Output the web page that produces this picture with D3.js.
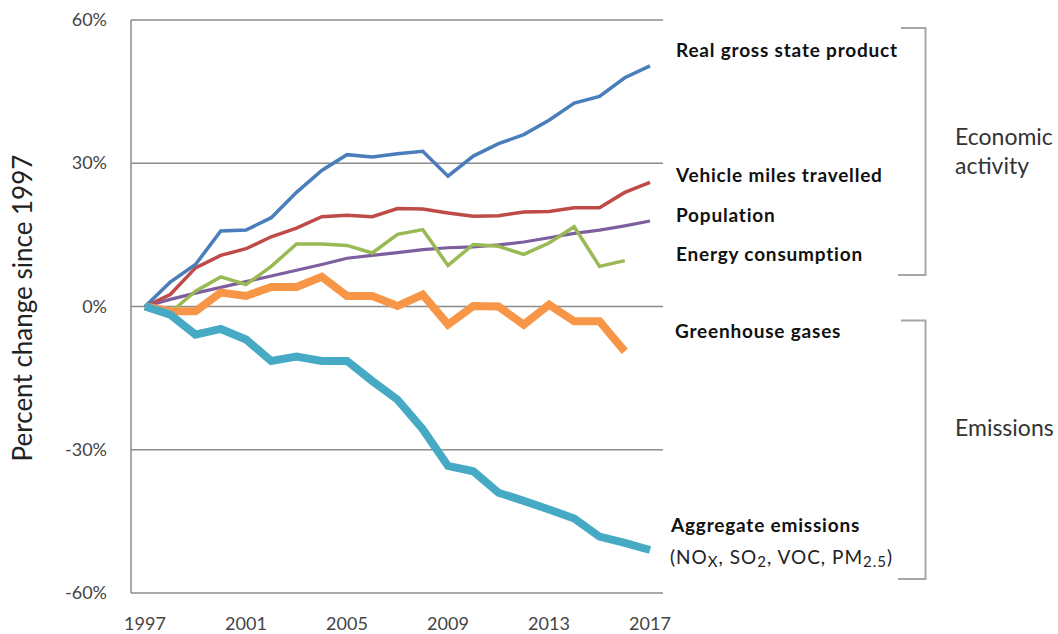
<!DOCTYPE html>
<html><head><meta charset="utf-8">
<script src="https://cdn.jsdelivr.net/npm/d3@7"></script>
<style>body{margin:0;background:#fff}svg{display:block}text{font-family:Lato,"Open Sans",sans-serif}</style>
</head><body><svg id="c" width="1058" height="634"></svg>
<script>
const years = d3.range(1997, 2018);
const gsp = [0,5.1,8.8,15.8,16.0,18.6,23.9,28.5,31.8,31.3,32.0,32.5,27.3,31.5,34.1,36.0,39.0,42.6,44.0,47.9,50.4];
const vmt = [0,2.5,8.1,10.7,12.1,14.6,16.4,18.8,19.1,18.8,20.5,20.4,19.6,18.9,19.0,19.8,19.9,20.7,20.7,23.9,26.0];
const population = [0,1.5,2.8,4.0,5.2,6.4,7.6,8.8,10.1,10.7,11.3,11.9,12.3,12.5,12.9,13.5,14.4,15.3,16.0,16.9,17.9];
const energy = [0,-1.3,3.2,6.2,4.6,8.4,13.1,13.1,12.8,11.2,15.1,16.1,8.6,13.0,12.6,10.9,13.3,16.7,8.4,9.6,null];
const ghg = [0,-1.0,-1.0,2.9,2.2,4.1,4.1,6.2,2.2,2.2,0.1,2.5,-3.8,0.1,0.0,-3.8,0.4,-3.1,-3.1,-9.4,null];
const aggregate = [0,-1.7,-5.9,-4.7,-6.9,-11.4,-10.5,-11.4,-11.4,-15.6,-19.5,-25.7,-33.4,-34.5,-39.0,-40.7,-42.5,-44.4,-48.2,-49.5,-51.0];
const yTicks = [60,30,0,-30,-60];
const xTickYears = [1997,2001,2005,2009,2013,2017];

const series = [
  {name:"Population", values:population, color:"#7d5fa0", w:3.2},
  {name:"Energy consumption", values:energy, color:"#98b954", w:3.5},
  {name:"Vehicle miles travelled", values:vmt, color:"#be4b48", w:3.5},
  {name:"Real gross state product", values:gsp, color:"#4a7ebb", w:3.5},
  {name:"Greenhouse gases", values:ghg, color:"#f79646", w:8},
  {name:"Aggregate emissions", values:aggregate, color:"#46aac5", w:8}
];

const svg = d3.select("#c");
const x = d3.scaleLinear().domain([1997,2017]).range([145,650]);
const y = d3.scaleLinear().domain([-60,60]).range([593,20]);
const plotLeft = 131, plotRight = 663;

svg.append("g").selectAll("line").data(yTicks).join("line")
  .attr("x1",plotLeft).attr("x2",plotRight)
  .attr("y1",d=>y(d)).attr("y2",d=>y(d))
  .attr("stroke","#8c8c8c").attr("stroke-width",1.3);
svg.append("line").attr("x1",plotLeft).attr("x2",plotLeft).attr("y1",y(60)).attr("y2",y(-60))
  .attr("stroke","#8c8c8c").attr("stroke-width",1.5);

svg.append("g").selectAll("text").data(yTicks).join("text")
  .attr("x",107).attr("y",d=>y(d)+6).attr("text-anchor","end")
  .attr("font-size",18).attr("fill","#444").text(d=>d+"%");
svg.append("g").selectAll("text").data(xTickYears).join("text")
  .attr("x",d=>x(d)).attr("y",630).attr("text-anchor","middle")
  .attr("font-size",18).attr("fill","#444").text(d=>d);
svg.append("text").attr("transform","translate(32,308) rotate(-90)")
  .attr("text-anchor","middle").attr("font-size",26).attr("fill","#222")
  .text("Percent change since 1997");

const line = d3.line().defined(d=>d[1]!=null).x(d=>x(d[0])).y(d=>y(d[1]));
svg.append("g").selectAll("path").data(series).join("path")
  .attr("d",s=>line(years.map((yr,i)=>[yr,s.values[i]])))
  .attr("fill","none").attr("stroke",s=>s.color).attr("stroke-width",s=>s.w)
  .attr("stroke-linejoin","miter").attr("stroke-linecap","butt");

const labels = [
  ["Real gross state product",57,676],["Vehicle miles travelled",182,676],["Population",222,676],
  ["Energy consumption",261,676],["Greenhouse gases",338,675],["Aggregate emissions",532,671]
];
svg.append("g").selectAll("text").data(labels).join("text")
  .attr("x",d=>d[2]).attr("y",d=>d[1]).attr("font-size",19).attr("font-weight","bold")
  .attr("letter-spacing",0.8).attr("fill","#111").text(d=>d[0]);
const sub = svg.append("text").attr("x",670).attr("y",564).attr("font-size",19)
  .attr("letter-spacing",1).attr("fill","#222");
sub.append("tspan").text("(NO");
sub.append("tspan").attr("font-size",15).attr("dy",3).text("X");
sub.append("tspan").attr("dy",-3).text(", SO");
sub.append("tspan").attr("font-size",15).attr("dy",3).text("2");
sub.append("tspan").attr("dy",-3).text(", VOC, PM");
sub.append("tspan").attr("font-size",15).attr("dy",3).text("2.5");
sub.append("tspan").attr("dy",-3).text(")");

const brk = (t,b)=>svg.append("path")
  .attr("d",`M901,${t}H925.5V${b}H898`).attr("fill","none")
  .attr("stroke","#a6a6a6").attr("stroke-width",2);
brk(28,275); brk(320.5,579);
const g1 = svg.append("text").attr("x",955).attr("font-size",23).attr("fill","#333");
g1.append("tspan").attr("x",955).attr("y",145).text("Economic");
g1.append("tspan").attr("x",955).attr("y",174).text("activity");
svg.append("text").attr("x",955).attr("y",436).attr("font-size",23).attr("fill","#333").text("Emissions");
</script></body></html>
